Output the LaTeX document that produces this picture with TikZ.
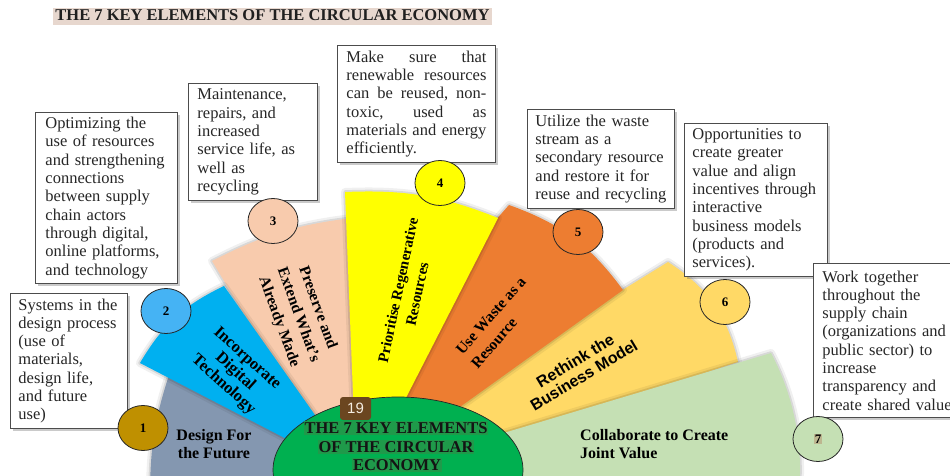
\documentclass[tikz,border=0pt]{standalone}
\usepackage{fontspec}
\setmainfont{Liberation Serif}
\newfontfamily\labsans{Liberation Sans}
\usetikzlibrary{shapes.geometric,shadows}
\definecolor{secGrey}{HTML}{8497B0}
\definecolor{secBlue}{HTML}{00B0F0}
\definecolor{secPeach}{HTML}{F8CBAD}
\definecolor{secYellow}{HTML}{FFFF00}
\definecolor{secOrange}{HTML}{ED7D31}
\definecolor{secLY}{HTML}{FFD966}
\definecolor{secLG}{HTML}{C5E0B4}
\definecolor{hubGreen}{HTML}{00B050}
\definecolor{hubHL}{HTML}{1F9A4A}
\definecolor{circGold}{HTML}{BF9000}
\definecolor{circBlue}{HTML}{45B3F4}
\definecolor{titleBG}{HTML}{E7D7CE}
\definecolor{pageBrown}{HTML}{6B4620}
\definecolor{pageText}{HTML}{F5EDE2}
\definecolor{sevenHL}{HTML}{BDB690}
\definecolor{boxText}{HTML}{262626}
\newcommand\myboxfont{\fontsize{16.5}{18.3}\selectfont}
\newcommand\jline[1]{\makebox[140pt]{#1}}
\begin{document}
\begin{tikzpicture}[x=1pt,y=-1pt,
  sector/.style={preaction={draw=black,draw opacity=0.06,line width=8pt,line join=round},
                 preaction={draw=black,draw opacity=0.10,line width=3.5pt,line join=round}},
  infobox/.style={draw=black!70,line width=0.9pt,fill=white,anchor=north west,align=left,
                  inner ysep=0pt,text=boxText,font=\myboxfont,
                  execute at begin node={\hyphenpenalty=10000\exhyphenpenalty=10000},
                  drop shadow={shadow xshift=2.5pt,shadow yshift=-2.5pt,opacity=0.35,fill=black!60}},
  numcirc/.style={ellipse,draw=black!85,line width=0.8pt,minimum width=50pt,minimum height=45pt,
                  inner sep=0pt,font=\fontsize{13}{13}\selectfont\bfseries},
  seclabel/.style={align=center,inner sep=0pt,text=black},
  ctext/.style={fill=hubHL,inner xsep=1pt,inner ysep=0.5pt,text height=11.5pt,text depth=1.5pt,
                text=black!92,font=\fontsize{16.5}{18}\selectfont\bfseries}
]
\useasboundingbox (0,0) rectangle (950,476);
\clip (0,0) rectangle (950,476);

% ---- fan sectors ----
\fill[sector,fill=secGrey] (396,465) -- (150,495) to[bend left=9] (170,372) -- cycle;
\fill[sector,fill=secPeach] (212,261) to[bend left=10] (352,218) -- (362,470) -- (338,470) -- cycle;
\fill[sector,fill=secBlue] (358,476) -- (140,363) to[bend left=17] (224,286) -- cycle;
\fill[sector,fill=secLY] (330,470) -- (668,262) to[bend left=22] (738,362) -- (375,482) -- cycle;
\fill[sector,fill=secLG] (380,470) -- (771,353) .. controls (795.7,399.6) and (804.9,452.6) .. (797.6,504.8) -- (380,505) -- cycle;
\fill[sector,fill=secOrange] (494,222) -- (509,205) to[bend left=17] (623,290) -- (372,470) -- (360,470) -- cycle;
\fill[sector,fill=secYellow] (345,192) to[bend left=12] (498,218) -- (369,470) -- (356,470) -- cycle;

% ---- hub ----
\node[ellipse,draw=black!85,line width=0.7pt,fill=hubGreen,minimum width=250pt,minimum height=146pt,inner sep=0pt] (hub) at (398,470) {};
\node[ctext] (ct1) at (396,428) {THE 7 KEY ELEMENTS};
\node[ctext] (ct2) at (396,447) {OF THE CIRCULAR};
\node[ctext] (ct3) at (397,465) {ECONOMY};
\node[fill=pageBrown,rounded corners=3pt,minimum width=31pt,minimum height=23pt,inner sep=0pt,
      text=pageText,font=\labsans\fontsize{15}{15}\selectfont] (pg) at (355.5,408.5) {19};

% ---- sector labels ----
\node[seclabel,font=\fontsize{16}{18}\selectfont\bfseries] (l1) at (214,444) {Design For\\the Future};
\node[seclabel,rotate=-42,font=\fontsize{16.5}{17.6}\selectfont\bfseries] (l2) at (235,372) {Incorporate\\Digital\\Technology};
\node[seclabel,rotate=-70,font=\fontsize{15.5}{20.5}\selectfont\bfseries] (l3) at (298,315) {Preserve and\\Extend What’s\\Already Made};
\node[seclabel,rotate=78,font=\fontsize{15}{19.5}\selectfont\bfseries] (l4) at (407.5,292) {Prioritise Regenerative\\Resources};
\node[seclabel,align=left,rotate=49,font=\fontsize{15.5}{20.4}\selectfont\bfseries] (l5) at (498.5,322.5) {Use Waste as a\\Resource};
\node[seclabel,rotate=31,font=\labsans\fontsize{16}{17}\selectfont\bfseries] (l6) at (579.5,368) {Rethink the\\Business Model};
\node[seclabel,align=left,anchor=west,font=\fontsize{16}{17.5}\selectfont\bfseries] (l7) at (580,444) {Collaborate to Create\\Joint Value};

% ---- description boxes ----
\node[infobox,text width=101pt,inner xsep=8pt,minimum height=135pt] (bA) at (10,293)
  {\mbox{Systems in the}\\\mbox{design process}\\(use of\\materials,\\design life,\\and future\\use)};
\node[infobox,text width=122pt,inner xsep=10pt,minimum height=171pt] (bB) at (35,112)
  {Optimizing the\\\mbox{use of resources}\\\mbox{and strengthening}\\connections\\between supply\\chain actors\\through digital,\\\mbox{online platforms,}\\and technology};
\node[infobox,text width=111pt,inner xsep=9pt,minimum height=117pt] (bC) at (188,83)
  {Maintenance,\\repairs, and\\increased\\\mbox{service life, as}\\well as\\recycling};
\node[infobox,text width=140pt,inner xsep=9pt,minimum height=117pt] (bD) at (337,45)
  {\jline{Make\hfill sure\hfill that}\\\jline{renewable\hfill resources}\\\jline{can\hfill be\hfill reused,\hfill non-}\\\jline{toxic,\hfill used\hfill as}\\\jline{materials\hfill and\hfill energy}\\efficiently.};
\node[infobox,text width=131pt,inner xsep=8pt,minimum height=99pt] (bE) at (527,109)
  {Utilize the waste\\stream as a\\\mbox{secondary resource}\\\mbox{and restore it for}\\\mbox{reuse and recycling}};
\node[infobox,text width=127pt,inner xsep=8pt,minimum height=153pt] (bF) at (684,123)
  {Opportunities to\\create greater\\value and align\\\mbox{incentives through}\\interactive\\\mbox{business models}\\(products and\\services).};
\node[infobox,text width=132pt,inner xsep=9pt,minimum height=154pt] (bG) at (813,263)
  {Work together\\throughout the\\supply chain\\\mbox{(organizations and}\\\mbox{public sector) to}\\increase\\\mbox{transparency and}\\\mbox{create shared value}};

% ---- number circles ----
\node[numcirc,fill=circGold] (n1) at (143,428) {1};
\node[numcirc,fill=circBlue] (n2) at (166,311) {2};
\node[numcirc,fill=secPeach] (n3) at (273,221) {3};
\node[numcirc,fill=secYellow] (n4) at (440,183) {4};
\node[numcirc,fill=secOrange] (n5) at (578,232) {5};
\node[numcirc,fill=secLY] (n6) at (725,302) {6};
\node[numcirc,fill=secLG] (n7) at (818,439) {\setlength{\fboxsep}{1pt}\colorbox{sevenHL}{7}};

% ---- title ----
\node[fill=titleBG,inner xsep=2pt,inner ysep=0.5pt,text height=12.5pt,text depth=3.5pt,
      font=\fontsize{16.5}{18}\selectfont\bfseries,text=black!88] (title) at (272.5,16.5)
  {THE 7 KEY ELEMENTS OF THE CIRCULAR ECONOMY};
\end{tikzpicture}
\end{document}
